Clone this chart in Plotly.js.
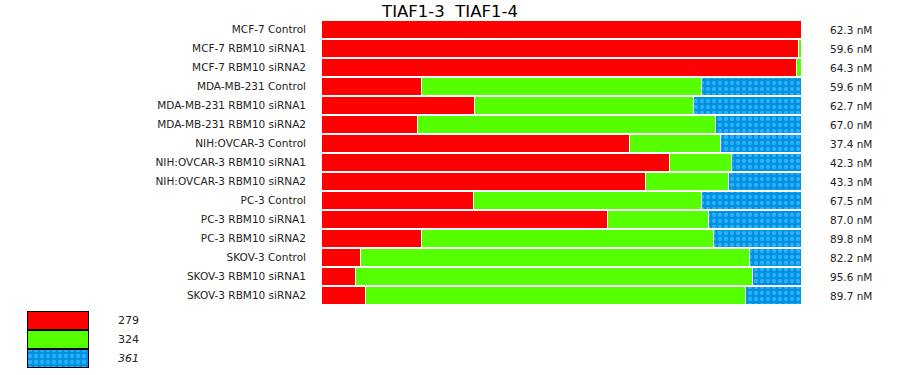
<!DOCTYPE html>
<html><head><meta charset="utf-8">
<script src="https://cdn.plot.ly/plotly-3.0.1.min.js"></script>
<style>body{margin:0;background:#fff}#chart{width:900px;height:375px}</style>
</head><body><div id="chart"></div>
<script>
const categories = ["MCF-7 Control","MCF-7 RBM10 siRNA1","MCF-7 RBM10 siRNA2","MDA-MB-231 Control","MDA-MB-231 RBM10 siRNA1","MDA-MB-231 RBM10 siRNA2","NIH:OVCAR-3 Control","NIH:OVCAR-3 RBM10 siRNA1","NIH:OVCAR-3 RBM10 siRNA2","PC-3 Control","PC-3 RBM10 siRNA1","PC-3 RBM10 siRNA2","SKOV-3 Control","SKOV-3 RBM10 siRNA1","SKOV-3 RBM10 siRNA2"];
const s279 = [100, 99.4, 99.0, 21.0, 31.9, 20.2, 64.2, 72.5, 67.5, 31.7, 59.6, 21.0, 8.3, 7.1, 9.2];
const s324 = [0, 0.6, 1.0, 58.3, 45.6, 61.9, 19.0, 13.1, 17.3, 47.5, 21.2, 60.7, 80.9, 82.7, 79.3];
const s361 = [0, 0, 0, 20.7, 22.5, 17.9, 16.8, 14.4, 15.2, 20.8, 19.2, 18.3, 10.8, 10.2, 11.5];
const totals = ["62.3 nM","59.6 nM","64.3 nM","59.6 nM","62.7 nM","67.0 nM","37.4 nM","42.3 nM","43.3 nM","67.5 nM","87.0 nM","89.8 nM","82.2 nM","95.6 nM","89.7 nM"];
const seriesNames = ["279","324","361"];
const legendLabels = ["279","324","<i>361</i>"];
const title = "TIAF1-3  TIAF1-4";

const colors = ["#ff0000","#55ff00","#0092df"];
const patterns = [null, null, {shape:".", bgcolor:"#0092df", fgcolor:"#2bb0ff", size:6, solidity:0.4, fillmode:"replace"}];
const seriesVals = [s279, s324, s361];

const traces = seriesVals.map((vals, i) => {
  const m = {color: colors[i], line:{color:"#ffffff", width:1}};
  if (patterns[i]) m.pattern = patterns[i];
  return {type:"bar", orientation:"h", y:categories, x:vals, name:seriesNames[i],
    marker:m, showlegend:false, hoverinfo:"skip", xaxis:"x", yaxis:"y"};
});
// legend swatches as a tiny subplot (one row per series)
seriesNames.forEach((n, i) => {
  const m = {color: colors[i], line:{color:"#000000", width:1.5}};
  if (patterns[i]) m.pattern = patterns[i];
  traces.push({type:"bar", orientation:"h", y:[i], x:[1], width:[1], marker:m, showlegend:false,
    hoverinfo:"skip", xaxis:"x2", yaxis:"y2", name:n});
});

const annotations = categories.map((c, i) => ({
  xref:"paper", yref:"y", x:828/900, y:c, xanchor:"left", yanchor:"middle",
  text: totals[i], showarrow:false, font:{family:"DejaVu Sans", size:10.5, color:"#222"}
}));
legendLabels.forEach((n, i) => annotations.push({
  xref:"paper", yref:"y2", x:116/900, y:i, xanchor:"left", yanchor:"middle",
  text: n, showarrow:false, font:{family:"DejaVu Sans", size:11, color:"#222"}
}));

const layout = {
  width:900, height:375,
  margin:{l:0, r:0, t:20, b:5},
  paper_bgcolor:"#fff", plot_bgcolor:"#fff",
  barmode:"stack", bargap:0.1,
  title:{text:title, x:0.5, xanchor:"center", y:1-11/375, yanchor:"middle", yref:"container",
    font:{family:"DejaVu Sans", size:16.5, color:"#000"}},
  font:{family:"DejaVu Sans", size:10.5, color:"#222"},
  xaxis:{domain:[321/900, 801/900], range:[0,100], showgrid:false, zeroline:false, showticklabels:false, showline:false, fixedrange:true},
  yaxis:{domain:[(370-305)/350, 1], autorange:"reversed", type:"category", showgrid:false, zeroline:false, showline:false,
    ticks:"", ticklabelstandoff:14, tickfont:{family:"DejaVu Sans", size:10.5, color:"#222"}},
  xaxis2:{domain:[27/900, 89/900], range:[0,1], anchor:"y2", showgrid:false, zeroline:false, showticklabels:false, showline:false},
  yaxis2:{domain:[(370-368)/350, (370-311)/350], anchor:"x2", type:"linear", range:[2.5,-0.5], showgrid:false, zeroline:false, showticklabels:false, showline:false},
  annotations:annotations,
  showlegend:false
};
Plotly.newPlot("chart", traces, layout, {staticPlot:true, displayModeBar:false});
</script></body></html>
